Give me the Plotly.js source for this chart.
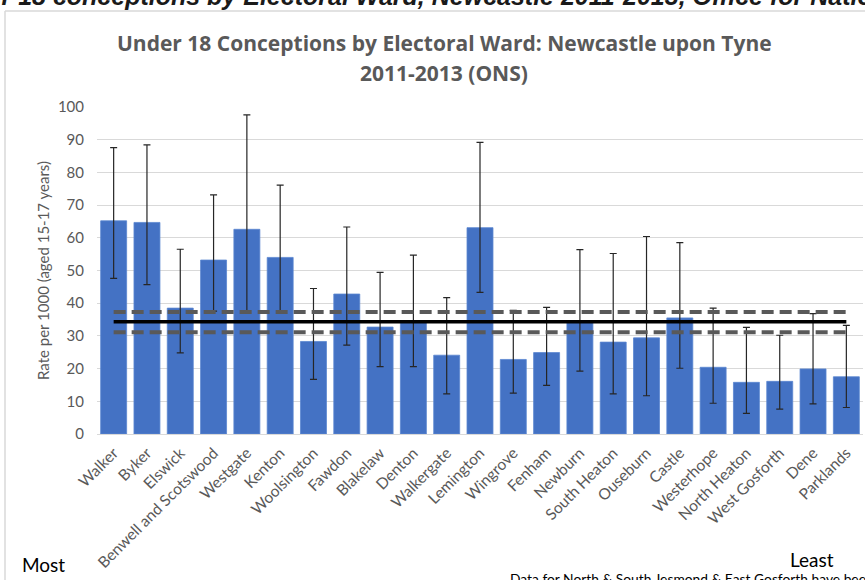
<!DOCTYPE html>
<html>
<head>
<meta charset="utf-8">
<script src="https://cdn.plot.ly/plotly-3.0.1.min.js"></script>
<style>
  html, body { margin: 0; padding: 0; background: #ffffff; }
  #chart { width: 865px; height: 580px; }
</style>
</head>
<body>
<div id="chart"></div>
<script>
// Under-18 conception rates per 1000 girls aged 15-17, by electoral ward, 2011-2013
const wards = [
  "Walker", "Byker", "Elswick", "Benwell and Scotswood", "Westgate", "Kenton",
  "Woolsington", "Fawdon", "Blakelaw", "Denton", "Walkergate", "Lemington",
  "Wingrove", "Fenham", "Newburn", "South Heaton", "Ouseburn", "Castle",
  "Westerhope", "North Heaton", "West Gosforth", "Dene", "Parklands"
];
const rates = [
  65.2, 64.7, 38.5, 53.2, 62.6, 54.0,
  28.3, 42.8, 32.7, 34.5, 24.1, 63.1,
  22.8, 24.9, 34.5, 28.1, 29.4, 35.5,
  20.4, 15.8, 16.1, 19.9, 17.5
];
// 95% confidence interval limits
const upperCI = [
  87.6, 88.4, 56.5, 73.1, 97.6, 76.1,
  44.5, 63.3, 49.4, 54.7, 41.7, 89.2,
  37.8, 38.7, 56.4, 55.2, 60.4, 58.5,
  38.5, 32.6, 30.2, 36.8, 33.2
];
const lowerCI = [
  47.6, 45.7, 24.8, 37.6, 37.7, 37.0,
  16.7, 27.2, 20.6, 20.6, 12.3, 43.3,
  12.5, 14.9, 19.2, 12.3, 11.7, 20.1,
  9.4, 6.3, 7.6, 9.2, 8.1
];
// Newcastle upon Tyne overall rate and its confidence limits
const cityRate = 34.3;
const cityUpper = 37.3;
const cityLower = 31.1;

const yTicks = [0, 10, 20, 30, 40, 50, 60, 70, 80, 90, 100];

const W = 865, H = 580;
const M = { l: 97, r: 2, t: 107, b: 146 };
const PW = W - M.l - M.r, PH = H - M.t - M.b;
const px = x => (x - M.l) / PW;
const py = y => (H - M.b - y) / PH;

const grey = "#595959";
const uiFont = "Lato, 'Open Sans', sans-serif";
const titleFont = { family: "'Open Sans', sans-serif", size: 21, color: grey, weight: 700 };

const bars = {
  type: "bar",
  x: wards,
  y: rates,
  marker: { color: "#4472C4", line: { color: "#5B86D0", width: 0.8 } },
  width: 0.78,
  error_y: {
    type: "data",
    symmetric: false,
    array: rates.map((v, i) => upperCI[i] - v),
    arrayminus: rates.map((v, i) => v - lowerCI[i]),
    color: "#262626",
    thickness: 1.2,
    width: 3.5
  },
  hoverinfo: "x+y"
};

const flat = v => wards.map(() => v);

const cityLine = {
  type: "scatter", mode: "lines",
  x: wards, y: flat(cityRate),
  line: { color: "#000000", width: 3.5 },
  hoverinfo: "skip"
};
const upperLine = {
  type: "scatter", mode: "lines",
  x: wards, y: flat(cityUpper),
  line: { color: "#595959", width: 4, dash: "12px,6px" },
  hoverinfo: "skip"
};
const lowerLine = {
  type: "scatter", mode: "lines",
  x: wards, y: flat(cityLower),
  line: { color: "#595959", width: 4, dash: "12px,6px" },
  hoverinfo: "skip"
};

const layout = {
  width: W, height: H,
  margin: M,
  paper_bgcolor: "#ffffff",
  plot_bgcolor: "#ffffff",
  showlegend: false,
  font: { family: uiFont, color: grey },
  bargap: 0.2,
  xaxis: {
    type: "category",
    tickangle: -45,
    tickfont: { family: uiFont, size: 15.5, color: grey },
    showgrid: false,
    showline: true, linecolor: "#d9d9d9", linewidth: 1,
    ticks: "",
    ticklabelstandoff: 3,
    range: [-0.5, wards.length - 0.5]
  },
  yaxis: {
    range: [0, 100],
    tickvals: yTicks,
    ticktext: yTicks.map(String),
    tickfont: { family: uiFont, size: 15, color: grey },
    showgrid: true, gridcolor: "#d9d9d9", gridwidth: 1,
    zeroline: false,
    showline: false,
    ticks: "", ticklen: 0,
    ticklabelstandoff: 12,
    title: {
      text: "Rate per 1000 (aged 15-17 years)",
      font: { family: uiFont, size: 15, color: grey },
      standoff: 4
    }
  },
  shapes: [
    { type: "line", xref: "paper", yref: "paper",
      x0: px(5), x1: px(5), y0: py(11), y1: py(H + 5),
      line: { color: "#d9d9d9", width: 1.5 } },
    { type: "line", xref: "paper", yref: "paper",
      x0: px(5), x1: px(W + 5), y0: py(11), y1: py(11),
      line: { color: "#d9d9d9", width: 1.5 } }
  ],
  annotations: [
    // two-line chart title
    { xref: "paper", yref: "paper", x: px(444), y: py(43), xanchor: "center", yanchor: "middle",
      text: "Under 18 Conceptions by Electoral Ward: Newcastle upon Tyne",
      showarrow: false, font: titleFont },
    { xref: "paper", yref: "paper", x: px(444), y: py(73), xanchor: "center", yanchor: "middle",
      text: "2011-2013 (ONS)",
      showarrow: false, font: titleFont },
    { xref: "paper", yref: "paper", x: px(-63), y: py(12), xanchor: "left", yanchor: "bottom",
      text: "<b><i>Under 18 conceptions by Electoral Ward, Newcastle 2011-2013, Office for National Statistics</i></b>",
      showarrow: false, font: { family: "'Liberation Sans', Arial, sans-serif", size: 25, color: "#1a1a1a" } },
    { xref: "paper", yref: "paper", x: px(20), y: py(578), xanchor: "left", yanchor: "bottom",
      text: "Most", showarrow: false, font: { family: uiFont, size: 19, color: "#000000" } },
    { xref: "paper", yref: "paper", x: px(788), y: py(573), xanchor: "left", yanchor: "bottom",
      text: "Least", showarrow: false, font: { family: uiFont, size: 19, color: "#000000" } },
    { xref: "paper", yref: "paper", x: px(508), y: py(568), xanchor: "left", yanchor: "top",
      text: "Data for North &amp; South Jesmond &amp; East Gosforth have been suppressed",
      showarrow: false, font: { family: uiFont, size: 13.8, color: "#000000" } }
  ]
};

Plotly.newPlot("chart", [bars, upperLine, lowerLine, cityLine], layout, { staticPlot: true, displayModeBar: false });
</script>
</body>
</html>
